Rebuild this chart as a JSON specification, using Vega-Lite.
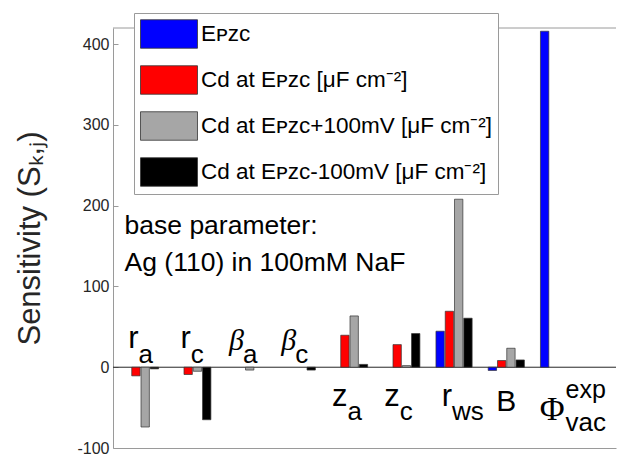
{
  "$schema": "https://vega.github.io/schema/vega-lite/v6.json",
  "width": 503,
  "height": 420,
  "padding": {"left": 14, "right": 0, "top": 12, "bottom": 7},
  "background": "white",
  "config": {"font": "Liberation Sans", "view": {"stroke": null}},
  "datasets": {
    "bars": [
      {"cat": "ra", "s": "C0", "v": -10.7},
      {"cat": "ra", "s": "Cp", "v": -74},
      {"cat": "ra", "s": "Cm", "v": -2},
      {"cat": "rc", "s": "C0", "v": -9},
      {"cat": "rc", "s": "Cp", "v": -5},
      {"cat": "rc", "s": "Cm", "v": -65},
      {"cat": "ba", "s": "Cp", "v": -3.5},
      {"cat": "bc", "s": "Cm", "v": -3.5},
      {"cat": "za", "s": "C0", "v": 39.6},
      {"cat": "za", "s": "Cp", "v": 63.5},
      {"cat": "za", "s": "Cm", "v": 3.5},
      {"cat": "zc", "s": "C0", "v": 28},
      {"cat": "zc", "s": "Cp", "v": 2},
      {"cat": "zc", "s": "Cm", "v": 41.7},
      {"cat": "rws", "s": "E", "v": 44.6},
      {"cat": "rws", "s": "C0", "v": 69.3},
      {"cat": "rws", "s": "Cp", "v": 208},
      {"cat": "rws", "s": "Cm", "v": 60.7},
      {"cat": "B", "s": "E", "v": -4},
      {"cat": "B", "s": "C0", "v": 8.3},
      {"cat": "B", "s": "Cp", "v": 23.5},
      {"cat": "B", "s": "Cm", "v": 9},
      {"cat": "phi", "s": "E", "v": 416}
    ],
    "labels": [
      {"cat": "ra", "main": "r", "sub": "a"},
      {"cat": "rc", "main": "r", "sub": "c"},
      {"cat": "ba", "main": "β", "sub": "a"},
      {"cat": "bc", "main": "β", "sub": "c"},
      {"cat": "za", "main": "z", "sub": "a"},
      {"cat": "zc", "main": "z", "sub": "c"},
      {"cat": "rws", "main": "r", "sub": "ws"},
      {"cat": "B", "main": "B", "sub": ""},
      {"cat": "phi", "main": "Φ", "sub": "vac", "sup": "exp"}
    ],
    "notes": [{"note": "base parameter:\nAg (110) in 100mM NaF"}]
  },
  "layer": [
    {
      "data": {"values": [{}]},
      "mark": {"type": "rule", "color": "#262626", "strokeWidth": 1},
      "encoding": {"y": {"datum": 0}}
    },
    {
      "data": {"values": [{}]},
      "mark": {"type": "rule", "color": "#9a9a9a", "strokeWidth": 1},
      "encoding": {"y": {"datum": 420}}
    },
    {
      "data": {"name": "bars"},
      "mark": {"type": "bar", "stroke": "#333333", "strokeWidth": 0.7},
      "encoding": {
        "x": {
          "field": "cat", "type": "nominal",
          "scale": {"domain": ["ra", "rc", "ba", "bc", "za", "zc", "rws", "B", "phi"], "paddingInner": 0.29, "paddingOuter": 0.4585, "align": 0.188, "round": false},
          "axis": {"labels": false, "ticks": false, "title": null, "domainColor": "#9a9a9a", "grid": false}
        },
        "xOffset": {
          "field": "s", "type": "nominal",
          "scale": {"domain": ["E", "C0", "Cp", "Cm"], "paddingInner": 0.1, "paddingOuter": 0.05}
        },
        "y": {
          "field": "v", "type": "quantitative", "stack": null,
          "scale": {"domain": [-100, 420], "nice": false, "zero": false},
          "axis": {
            "values": [-100, 0, 100, 200, 300, 400],
            "labelExpr": "datum.value + ''",
            "title": "Sensitivity (Sₖ,ⱼ)",
            "titleFontSize": 31, "titleFontWeight": "normal", "titleColor": "#262626", "titlePadding": 30,
            "labelFontSize": 16, "labelColor": "#262626",
            "grid": false, "domainColor": "#9a9a9a", "tickColor": "#9a9a9a",
            "tickSize": -5, "labelPadding": 9
          }
        },
        "color": {
          "field": "s", "type": "nominal",
          "scale": {"domain": ["E", "C0", "Cp", "Cm"], "range": ["#0000ff", "#ff0000", "#a6a6a6", "#000000"]},
          "legend": {
            "orient": "none", "legendX": 21, "legendY": -15, "title": null,
            "symbolType": "M-2,-1H2V1H-2Z", "symbolSize": 812, "symbolOffset": 14,
            "symbolStrokeColor": "#333333", "symbolStrokeWidth": 0.8, "symbolOpacity": 1,
            "labelFontSize": 22.5, "labelColor": "#000000", "labelFont": "Liberation Sans", "labelLimit": 600, "labelOffset": 17,
            "rowPadding": 14, "padding": 6, "strokeColor": "#9a9a9a", "fillColor": "white",
            "labelExpr": "datum.value == 'E' ? 'Eᴘᴢᴄ' : datum.value == 'C0' ? 'Cd at Eᴘᴢᴄ [μF cm⁻²]' : datum.value == 'Cp' ? 'Cd at Eᴘᴢᴄ+100mV [μF cm⁻²]' : 'Cd at Eᴘᴢᴄ-100mV [μF cm⁻²]'"
          }
        }
      }
    },
    {
      "data": {"name": "notes"},
      "mark": {"type": "text", "align": "left", "dx": -16, "lineBreak": "\n", "lineHeight": 37, "fontSize": 26.5, "color": "#000000"},
      "encoding": {"x": {"datum": "ra"}, "y": {"datum": 174.6}, "text": {"field": "note"}}
    },
    {
      "data": {"name": "labels"},
      "transform": [{"filter": {"field": "cat", "oneOf": ["ra", "rc"]}}],
      "mark": {"type": "text", "align": "right", "dx": -2, "fontSize": 31, "color": "#000000"},
      "encoding": {"x": {"field": "cat", "type": "nominal"}, "y": {"datum": 34.7}, "text": {"field": "main"}}
    },
    {
      "data": {"name": "labels"},
      "transform": [{"filter": {"field": "cat", "oneOf": ["ba", "bc"]}}],
      "mark": {"type": "text", "align": "right", "dx": -1, "dy": 2, "fontSize": 30, "font": "Liberation Serif", "fontStyle": "italic", "color": "#000000"},
      "encoding": {"x": {"field": "cat", "type": "nominal"}, "y": {"datum": 34.7}, "text": {"field": "main"}}
    },
    {
      "data": {"name": "labels"},
      "transform": [{"filter": {"field": "cat", "oneOf": ["ra", "rc", "ba", "bc"]}}],
      "mark": {"type": "text", "align": "left", "dx": -2, "dy": 16, "fontSize": 26, "color": "#000000"},
      "encoding": {"x": {"field": "cat", "type": "nominal"}, "y": {"datum": 34.7}, "text": {"field": "sub"}}
    },
    {
      "data": {"name": "labels"},
      "transform": [{"filter": {"field": "cat", "oneOf": ["za", "zc", "rws"]}}],
      "mark": {"type": "text", "align": "right", "dx": -2, "fontSize": 31, "color": "#000000"},
      "encoding": {"x": {"field": "cat", "type": "nominal"}, "y": {"datum": -37.1}, "text": {"field": "main"}}
    },
    {
      "data": {"name": "labels"},
      "transform": [{"filter": {"field": "cat", "oneOf": ["za", "zc", "rws"]}}],
      "mark": {"type": "text", "align": "left", "dx": -2, "dy": 15, "fontSize": 26, "color": "#000000"},
      "encoding": {"x": {"field": "cat", "type": "nominal"}, "y": {"datum": -37.1}, "text": {"field": "sub"}}
    },
    {
      "data": {"name": "labels"},
      "transform": [{"filter": {"field": "cat", "equal": "B"}}],
      "mark": {"type": "text", "align": "center", "dy": 5, "fontSize": 30, "color": "#000000"},
      "encoding": {"x": {"field": "cat", "type": "nominal"}, "y": {"datum": -37.1}, "text": {"field": "main"}}
    },
    {
      "data": {"name": "labels"},
      "transform": [{"filter": {"field": "cat", "equal": "phi"}}],
      "mark": {"type": "text", "align": "right", "dx": 6, "dy": 13, "fontSize": 34, "font": "Liberation Serif", "color": "#000000"},
      "encoding": {"x": {"field": "cat", "type": "nominal"}, "y": {"datum": -37.1}, "text": {"field": "main"}}
    },
    {
      "data": {"name": "labels"},
      "transform": [{"filter": {"field": "cat", "equal": "phi"}}],
      "mark": {"type": "text", "align": "left", "dx": 7, "dy": -7, "fontSize": 25, "color": "#000000"},
      "encoding": {"x": {"field": "cat", "type": "nominal"}, "y": {"datum": -37.1}, "text": {"field": "sup"}}
    },
    {
      "data": {"name": "labels"},
      "transform": [{"filter": {"field": "cat", "equal": "phi"}}],
      "mark": {"type": "text", "align": "left", "dx": 7, "dy": 26, "fontSize": 26, "color": "#000000"},
      "encoding": {"x": {"field": "cat", "type": "nominal"}, "y": {"datum": -37.1}, "text": {"field": "sub"}}
    }
  ]
}
